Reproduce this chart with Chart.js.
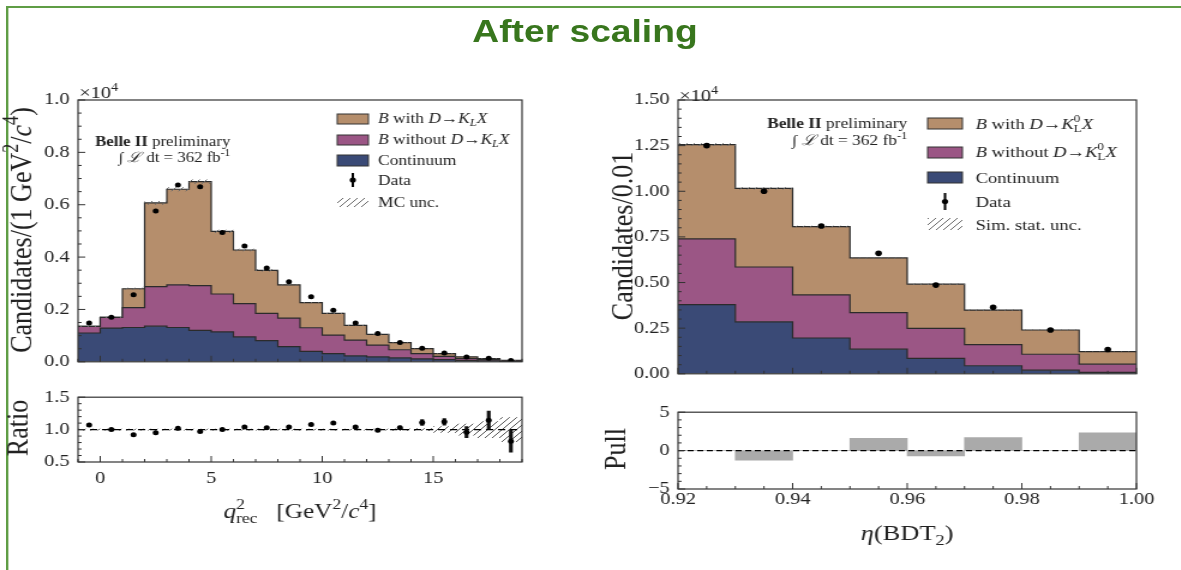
<!DOCTYPE html>
<html lang="en">
<head>
<meta charset="utf-8">
<title>After scaling</title>
<script src="https://cdn.jsdelivr.net/npm/chart.js@4.4.1/dist/chart.umd.min.js"></script>
<style>
  html, body { margin: 0; background: #fff; }
  /* the slide is drawn narrow and stretched sideways, like the reference */
  #slide { position: relative; width: 985px; height: 570px; transform: scaleX(1.2); transform-origin: 0 0; overflow: hidden; }
  .edge { position: absolute; background: #5f9d45; }
  #title { position: absolute; left: 0; top: 16px; width: 975px; text-align: center; font: bold 31px "Liberation Sans", Arial, sans-serif; line-height: 31px; color: #38761d; }
  canvas { position: absolute; }
</style>
</head>
<body>
<div id="slide">
  <div class="edge" style="left:5px;top:6px;width:980px;height:2px"></div>
  <div class="edge" style="left:5px;top:6px;width:1.7px;height:564px"></div>
  <div id="title">After scaling</div>
  <canvas id="q2Main" width="442" height="309" style="left:0;top:70px"></canvas>
  <canvas id="q2Ratio" width="442" height="160" style="left:0;top:380px"></canvas>
  <canvas id="bdtMain" width="482" height="321" style="left:490px;top:70px"></canvas>
  <canvas id="bdtPull" width="482" height="160" style="left:490px;top:395px"></canvas>
</div>
<script>
/* ============================
   Data (x10^4 candidates)
============================ */
// left: q2rec, 1 GeV2/c4 bins
const q2Edges = [-1, 0, 1, 2, 3, 4, 5, 6, 7, 8, 9, 10, 11, 12, 13, 14, 15, 16, 17, 18, 19];
const q2Cont = [0.110, 0.129, 0.131, 0.136, 0.131, 0.120, 0.114, 0.095, 0.081, 0.058, 0.040, 0.031, 0.023, 0.019, 0.015, 0.011, 0.008, 0.005, 0.004, 0.002];
const q2NoKL = [0.025, 0.041, 0.076, 0.151, 0.163, 0.171, 0.145, 0.127, 0.104, 0.109, 0.090, 0.071, 0.060, 0.045, 0.031, 0.020, 0.013, 0.007, 0.004, 0.002];
const q2WithKL = [0, 0, 0.072, 0.320, 0.365, 0.397, 0.239, 0.205, 0.164, 0.127, 0.096, 0.083, 0.056, 0.041, 0.027, 0.019, 0.010, 0.007, 0.004, 0.002];
const q2Data = [0.148, 0.170, 0.256, 0.576, 0.675, 0.669, 0.494, 0.442, 0.358, 0.306, 0.248, 0.197, 0.148, 0.108, 0.074, 0.052, 0.034, 0.018, 0.014, 0.005];
const q2Ratio = [1.07, 1.00, 0.92, 0.95, 1.02, 0.97, 1.00, 1.04, 1.03, 1.04, 1.08, 1.10, 1.04, 0.99, 1.03, 1.11, 1.12, 0.96, 1.145, 0.82];
const q2RatioErr = [0.015, 0.015, 0.015, 0.012, 0.010, 0.010, 0.010, 0.012, 0.012, 0.015, 0.015, 0.015, 0.018, 0.020, 0.025, 0.045, 0.050, 0.085, 0.140, 0.170];
const q2McUnc = [0.015, 0.015, 0.015, 0.012, 0.012, 0.012, 0.012, 0.012, 0.012, 0.012, 0.012, 0.015, 0.015, 0.015, 0.018, 0.020, 0.050, 0.090, 0.130, 0.190];
const q2XTicks = [0, 5, 10, 15];
const q2YTicks = [0, 0.2, 0.4, 0.6, 0.8, 1.0];
const q2RatioTicks = [0.5, 1.0, 1.5];
const ratioRef = 1;

// right: eta(BDT2), 0.01 bins
const bdtEdges = [0.92, 0.93, 0.94, 0.95, 0.96, 0.97, 0.98, 0.99, 1.00];
const bdtCont = [0.379, 0.285, 0.196, 0.135, 0.085, 0.044, 0.020, 0.008];
const bdtNoKL = [0.360, 0.300, 0.236, 0.200, 0.164, 0.116, 0.087, 0.045];
const bdtWithKL = [0.516, 0.431, 0.374, 0.300, 0.242, 0.189, 0.133, 0.068];
const bdtData = [1.25, 1.00, 0.81, 0.66, 0.486, 0.365, 0.24, 0.133];
const bdtSimUnc = [0.006, 0.006, 0.006, 0.007, 0.008, 0.009, 0.010, 0.012];
const bdtPull = [0, -1.24, 0, 1.6, -0.7, 1.7, 0, 2.3];
const bdtXTicks = [0.92, 0.94, 0.96, 0.98, 1.00];
const bdtYTicks = [0, 0.25, 0.5, 0.75, 1.0, 1.25, 1.5];
const bdtPullTicks = [-5, 0, 5];
const pullRef = 0;

/* ============================
   Utils
============================ */
const SERIF = '"Liberation Serif", "DejaVu Serif", serif';
const INK = "#222";
const COL = { withKL: "#b58e6c", noKL: "#9b5685", cont: "#3a4a76", pull: "#aaaaaa" };

const centers = (edges) => edges.slice(0, -1).map((e, i) => (e + edges[i + 1]) / 2);
const steps = (edges, vals) => edges.map((x, i) => ({ x, y: vals[Math.min(i, vals.length - 1)] }));
const marks = (edges, vals) => centers(edges).map((x, i) => ({ x, y: vals[i] }));
const addUp = (...arrs) => arrs[0].map((_, i) => arrs.reduce((s, a) => s + a[i], 0));
const scaleBy = (vals, rel, sign) => vals.map((v, i) => v * (1 + sign * rel[i]));
const fmt = (v, d) => (v < 0 ? "\u2212" : "") + Math.abs(v).toFixed(d);
const fontOf = (f, s) => `${f === "i" ? "italic " : ""}${f === "b" ? "bold " : ""}${s}px ${SERIF}`;

function hatch(ctx, color) {
    const c = document.createElement("canvas");
    c.width = c.height = 6;
    const g = c.getContext("2d");
    g.strokeStyle = color; g.lineWidth = 1;
    g.beginPath();
    g.moveTo(0, 6); g.lineTo(6, 0);
    g.moveTo(-1, 1); g.lineTo(1, -1);
    g.moveTo(5, 7); g.lineTo(7, 5);
    g.stroke();
    return ctx.createPattern(c, "repeat");
}

// segs: [text, "r"|"i"|"b", +1 sup / -1 sub, keep x]
function drawRich(ctx, segs, x, y, size, align = "left") {
    let w = 0;
    const items = segs.map(([t, f = "r", v = 0, keep = 0]) => {
        const font = fontOf(f, v ? size * 0.7 : size);
        ctx.font = font;
        const it = { t, font, dx: w, dy: v > 0 ? -0.42 * size : v < 0 ? 0.22 * size : 0 };
        if (!keep) w += ctx.measureText(t).width;
        return it;
    });
    const x0 = align === "center" ? x - w / 2 : align === "right" ? x - w : x;
    ctx.textAlign = "left";
    items.forEach((it) => { ctx.font = it.font; ctx.fillText(it.t, x0 + it.dx, y + it.dy); });
}

const minors = (min, max, step, major) => {
    const out = [];
    for (let k = Math.ceil(min / step - 1e-9); k * step <= max + 1e-9; k++) {
        const v = k * step;
        if (!major.some((m) => Math.abs(m - v) < step / 10)) out.push(v);
    }
    return out;
};

/* ============================
   Frame, inward ticks, texts, legend
============================ */
function decor(cfg) {
    return {
        id: "decor",
        afterDatasetsDraw(chart) {
            const { ctx, chartArea: a } = chart;
            const xs = chart.scales.x, ys = chart.scales.y;
            ctx.save();
            ctx.strokeStyle = "#333"; ctx.lineWidth = 1;
            ctx.beginPath();
            const tick = (px, py, dx, dy) => { ctx.moveTo(px, py); ctx.lineTo(px + dx, py + dy); };
            cfg.xMajor.forEach((v) => tick(xs.getPixelForValue(v), a.bottom, 0, -6));
            minors(xs.min, xs.max, cfg.xMinor, cfg.xMajor).forEach((v) => tick(xs.getPixelForValue(v), a.bottom, 0, -3));
            cfg.yMajor.forEach((v) => tick(a.left, ys.getPixelForValue(v), 6, 0));
            minors(ys.min, ys.max, cfg.yMinor, cfg.yMajor).forEach((v) => tick(a.left, ys.getPixelForValue(v), 3, 0));
            ctx.stroke();
            ctx.lineWidth = 1.2;
            ctx.strokeRect(a.left, a.top, a.right - a.left, a.bottom - a.top);
            ctx.restore();
        },
        afterDraw(chart) {
            const ctx = chart.ctx;
            ctx.save();
            ctx.fillStyle = INK;
            ctx.textBaseline = "alphabetic";
            (cfg.texts || []).forEach((t) => drawRich(ctx, t.segs, t.x, t.y, t.size, t.align));
            if (cfg.xTitle) drawRich(ctx, cfg.xTitle.segs, cfg.xTitle.x, cfg.xTitle.y, cfg.xTitle.size, "center");
            if (cfg.yTitle) {
                const t = cfg.yTitle;
                ctx.save();
                ctx.translate(t.x, t.y);
                ctx.rotate(-Math.PI / 2);
                drawRich(ctx, t.segs, 0, t.size * 0.33, t.size, "center");
                ctx.restore();
            }
            if (cfg.legend) drawLegend(ctx, cfg.legend);
            ctx.restore();
        },
    };
}

function drawLegend(ctx, lg) {
    const [x0, x1] = lg.box;
    lg.rows.forEach((r) => {
        if (r.kind === "box") {
            ctx.fillStyle = r.color;
            ctx.fillRect(x0, r.top, x1 - x0, r.bottom - r.top);
            ctx.strokeStyle = "#333"; ctx.lineWidth = 1;
            ctx.strokeRect(x0, r.top, x1 - x0, r.bottom - r.top);
        } else if (r.kind === "data") {
            const cx = (x0 + x1) / 2, cy = (r.top + r.bottom) / 2;
            ctx.fillStyle = "#000";
            ctx.fillRect(cx - 1, r.top, 2, r.bottom - r.top);
            ctx.beginPath(); ctx.arc(cx, cy, 2.6, 0, Math.PI * 2); ctx.fill();
        } else {
            ctx.fillStyle = lg.pattern;
            ctx.fillRect(x0, r.top, x1 - x0, r.bottom - r.top);
        }
        ctx.fillStyle = INK;
        drawRich(ctx, r.segs, lg.textX, r.base, lg.size);
    });
}

/* ============================
   Scales & chart factory
============================ */
function yAxis(min, max, ticks, width, digits) {
    return {
        type: "linear", min, max,
        grid: { display: false, drawTicks: false }, border: { display: false },
        afterBuildTicks: (s) => { s.ticks = ticks.map((value) => ({ value })); },
        afterFit: (s) => { s.width = width; },
        ticks: { color: INK, padding: 7, font: { family: SERIF, size: 17 }, callback: (v) => fmt(v, digits) },
    };
}

function xAxis(min, max, ticks, height, digits, pad) {
    if (!height) return { type: "linear", min, max, offset: false, display: false };
    return {
        type: "linear", min, max, offset: false,
        grid: { display: false, offset: false, drawTicks: false }, border: { display: false },
        afterBuildTicks: (s) => { s.ticks = ticks.map((value) => ({ value })); },
        afterFit: (s) => { s.height = height; },
        ticks: { color: INK, padding: pad, autoSkip: false, maxRotation: 0, font: { family: SERIF, size: 17 }, callback: (v) => fmt(v, digits) },
    };
}

function makeChart(el, type, datasets, scales, padding, deco) {
    return new Chart(el, {
        type,
        data: { datasets },
        options: {
            responsive: false, animation: false, devicePixelRatio: 1, events: [],
            layout: { padding },
            plugins: { legend: { display: false }, tooltip: { enabled: false } },
            scales,
        },
        plugins: [decor(deco)],
    });
}

const stepSet = (data, extra) => ({
    type: "line", data, stepped: true, tension: 0, pointRadius: 0,
    borderWidth: 1.2, borderColor: "#2b2b2b", ...extra,
});
const bandSet = (data, extra) => stepSet(data, { borderColor: "rgba(0,0,0,0)", borderWidth: 1, ...extra });
const refSet = (edges, level, dash, order) => ({
    type: "line", data: [{ x: edges[0], y: level }, { x: edges[edges.length - 1], y: level }],
    borderColor: "#000", borderWidth: 1.3, borderDash: dash, pointRadius: 0, order,
});

function stackSets(edges, cont, noKL, withKL, data, unc, pattern, r) {
    const lvl1 = cont, lvl2 = addUp(cont, noKL), total = addUp(cont, noKL, withKL);
    return [
        stepSet(steps(edges, lvl1), { fill: "origin", backgroundColor: COL.cont, order: 3 }),
        stepSet(steps(edges, lvl2), { fill: "-1", backgroundColor: COL.noKL, order: 4 }),
        stepSet(steps(edges, total), { fill: "-1", backgroundColor: COL.withKL, order: 5 }),
        bandSet(steps(edges, scaleBy(total, unc, -1)), { fill: false, order: 2 }),
        bandSet(steps(edges, scaleBy(total, unc, 1)), { fill: "-1", backgroundColor: pattern, order: 1 }),
        { type: "line", data: marks(edges, data), showLine: false, pointRadius: r, pointBackgroundColor: "#000", pointBorderWidth: 0, order: 0 },
    ];
}

/* ============================
   Left: q2rec
============================ */
const klLeft = (w) => [["B", "i"], [w, "r"], ["D", "i"], ["\u2192", "r"], ["K", "i"], ["L", "i", -1], ["X", "i"]];
const klRight = (w) => [["B", "i"], [w, "r"], ["D", "i"], ["\u2192", "r"], ["K", "i"], ["0", "r", 1, 1], ["L", "r", -1], ["X", "i"]];
const belle = [["Belle II", "b"], [" preliminary", "r"]];
const lumi = [["\u222B ", "r"], ["\u2112", "i"], [" dt = 362 fb", "r"], ["-1", "r", 1]];

const q2MainEl = document.getElementById("q2Main");
const q2Pat = hatch(q2MainEl.getContext("2d"), "#6a6a6a");
makeChart(q2MainEl, "line",
    stackSets(q2Edges, q2Cont, q2NoKL, q2WithKL, q2Data, q2McUnc, q2Pat, 2.5),
    { x: xAxis(-1, 19, q2XTicks, 0), y: yAxis(0, 1.0, q2YTicks, 65, 1) },
    { top: 30, bottom: 10, left: 0, right: 7 },
    {
        xMajor: q2XTicks, xMinor: 1, yMajor: q2YTicks, yMinor: 0.05,
        yTitle: { segs: [["Candidates/(1 GeV", "r"], ["2", "r", 1], ["/", "r"], ["c", "i"], ["4", "r", 1], [")", "r"]], x: 17, y: 160, size: 26 },
        texts: [
            { segs: [["\u00D710", "r"], ["4", "r", 1]], x: 66, y: 28, size: 17 },
            { segs: belle, x: 192, y: 76, size: 14, align: "right" },
            { segs: lumi, x: 192, y: 92, size: 14, align: "right" },
        ],
        legend: {
            box: [281, 307], textX: 315, size: 14.5, pattern: q2Pat,
            rows: [
                { kind: "box", color: COL.withKL, top: 44, bottom: 54, base: 53, segs: klLeft(" with ") },
                { kind: "box", color: COL.noKL, top: 65, bottom: 75, base: 74, segs: klLeft(" without ") },
                { kind: "box", color: COL.cont, top: 85, bottom: 96, base: 95, segs: [["Continuum", "r"]] },
                { kind: "data", top: 103, bottom: 117, base: 115, segs: [["Data", "r"]] },
                { kind: "hatch", top: 128, bottom: 137, base: 137, segs: [["MC unc.", "r"]] },
            ],
        },
    });

const q2RatioEl = document.getElementById("q2Ratio");
const q2RatioPat = hatch(q2RatioEl.getContext("2d"), "#555");
makeChart(q2RatioEl, "line", [
        { type: "line", data: marks(q2Edges, q2Ratio), showLine: false, pointRadius: 2.5, pointBackgroundColor: "#000", pointBorderWidth: 0, order: 0 },
        { type: "bar", data: marks(q2Edges, q2Ratio.map((r, i) => [r - q2RatioErr[i], r + q2RatioErr[i]])), barThickness: 2.5, backgroundColor: "#111", order: 1 },
        refSet(q2Edges, ratioRef, [6, 4], 2),
        bandSet(steps(q2Edges, q2McUnc.map((u) => ratioRef - u)), { fill: false, order: 4 }),
        bandSet(steps(q2Edges, q2McUnc.map((u) => ratioRef + u)), { fill: "-1", backgroundColor: q2RatioPat, order: 3 }),
    ],
    { x: xAxis(-1, 19, q2XTicks, 78, 0, 6), y: yAxis(0.5, 1.5, q2RatioTicks, 65, 1) },
    { top: 13, bottom: 0, left: 0, right: 7 },
    {
        xMajor: q2XTicks, xMinor: 1, yMajor: q2RatioTicks, yMinor: 0.1,
        yTitle: { segs: [["Ratio", "r"]], x: 14, y: 48, size: 26 },
        xTitle: { segs: [["q", "i"], ["2", "r", 1, 1], ["rec", "r", -1], ["   [GeV", "r"], ["2", "r", 1], ["/", "r"], ["c", "i"], ["4", "r", 1], ["]", "r"]], x: 250, y: 138, size: 21 },
    });

/* ============================
   Right: eta(BDT2)
============================ */
const bdtMainEl = document.getElementById("bdtMain");
const bdtPat = hatch(bdtMainEl.getContext("2d"), "#6a6a6a");
makeChart(bdtMainEl, "line",
    stackSets(bdtEdges, bdtCont, bdtNoKL, bdtWithKL, bdtData, bdtSimUnc, bdtPat, 2.8),
    { x: xAxis(0.92, 1.0, bdtXTicks, 0), y: yAxis(0, 1.5, bdtYTicks, 75, 2) },
    { top: 30, bottom: 10, left: 0, right: 25 },
    {
        xMajor: bdtXTicks, xMinor: 0.005, yMajor: bdtYTicks, yMinor: 0.05,
        yTitle: { segs: [["Candidates/0.01", "r"]], x: 28, y: 166, size: 26 },
        texts: [
            { segs: [["\u00D710", "r"], ["4", "r", 1]], x: 76, y: 31, size: 17 },
            { segs: belle, x: 266, y: 58, size: 14.5, align: "right" },
            { segs: lumi, x: 266, y: 75, size: 14.5, align: "right" },
        ],
        legend: {
            box: [283, 312], textX: 323, size: 15.5, pattern: bdtPat,
            rows: [
                { kind: "box", color: COL.withKL, top: 48, bottom: 59, base: 59, segs: klRight(" with ") },
                { kind: "box", color: COL.noKL, top: 77, bottom: 88, base: 87, segs: klRight(" without ") },
                { kind: "box", color: COL.cont, top: 102, bottom: 113, base: 113, segs: [["Continuum", "r"]] },
                { kind: "data", top: 123, bottom: 140, base: 137, segs: [["Data", "r"]] },
                { kind: "hatch", top: 148, bottom: 160, base: 160, segs: [["Sim. stat. unc.", "r"]] },
            ],
        },
    });

makeChart(document.getElementById("bdtPull"), "bar", [
        { type: "bar", data: marks(bdtEdges, bdtPull), backgroundColor: COL.pull, barPercentage: 1, categoryPercentage: 1, order: 1 },
        refSet(bdtEdges, pullRef, [5, 3], 0),
    ],
    { x: xAxis(0.92, 1.0, bdtXTicks, 66, 2, 0), y: yAxis(-5, 5, bdtPullTicks, 75, 0) },
    { top: 13, bottom: 0, left: 0, right: 25 },
    {
        xMajor: bdtXTicks, xMinor: 0.005, yMajor: bdtPullTicks, yMinor: 1,
        yTitle: { segs: [["Pull", "r"]], x: 22, y: 54, size: 26 },
        xTitle: { segs: [["\u03B7", "i"], ["(BDT", "r"], ["2", "r", -1], [")", "r"]], x: 266, y: 145, size: 22 },
    });
</script>
</body>
</html>
